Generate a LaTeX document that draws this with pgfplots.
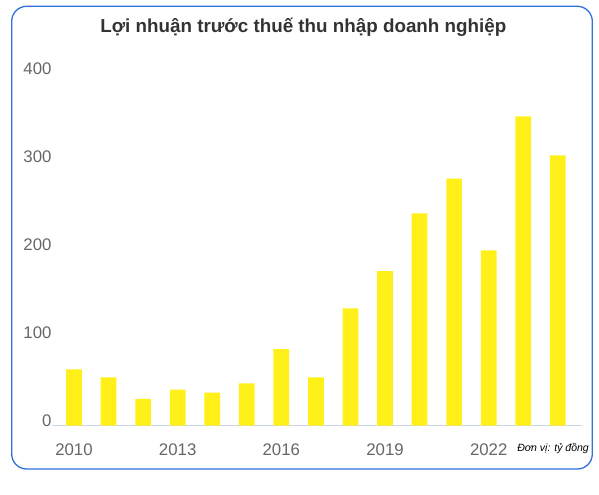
\documentclass[border=0pt]{standalone}
\usepackage{pgfplots}
\pgfplotsset{compat=1.18}
\usepackage{fontspec}
\setmainfont{Liberation Sans}
\definecolor{barcol}{RGB}{255,240,26}
\definecolor{bordercol}{RGB}{45,112,222}
\definecolor{axiscol}{RGB}{204,214,235}
\definecolor{tickcol}{RGB}{102,102,102}
\definecolor{titlecol}{RGB}{51,51,51}
\begin{document}
\begin{tikzpicture}[x=1bp,y=1bp]
\path[use as bounding box] (0,0) rectangle (599,-495);
\draw[bordercol, line width=1.3bp, rounded corners=15bp] (11.7,-6.3) rectangle (592.3,-469);
\node[anchor=base, inner sep=0pt, text=titlecol, font=\bfseries\fontsize{18.8bp}{22bp}\selectfont] at (303.3,-32.7) {Lợi nhuận trước thuế thu nhập doanh nghiệp};
\node[anchor=base east, inner sep=0pt, font=\itshape\fontsize{10.5bp}{12bp}\selectfont] at (589,-451.7) {Đơn vị: tỷ đồng};
\begin{axis}[
  at={(52.3bp,-425.7bp)}, anchor=south west,
  scale only axis, width=529.4bp, height=352.6bp,
  xmin=2009.372, xmax=2024.692, ymin=0, ymax=400,
  axis x line*=bottom, axis y line*=left,
  x axis line style={draw=axiscol, line width=1bp, -},
  y axis line style={draw=none},
  major tick length=0pt,
  xtick={2010,2013,2016,2019,2022},
  xticklabels={2010,2013,2016,2019,2022},
  ytick={0,100,200,300,400},
  yticklabels={0,100,200,300,400},
  tick label style={text=tickcol, font=\fontsize{16.8bp}{18bp}\selectfont, inner sep=0pt},
  xticklabel style={anchor=base, yshift=-29.3bp},
  yticklabel style={anchor=base east, xshift=-0.6bp, yshift=-1bp},
  ybar, bar width=15.7bp,
  clip=false,
]
\addplot[fill=barcol, draw=none] coordinates {
(2010,64.0) (2011,54.9) (2012,30.3) (2013,40.8) (2014,37.4)
(2015,48.1) (2016,87.0) (2017,54.9) (2018,133.2) (2019,175.5)
(2020,240.9) (2021,280.2) (2022,199.0) (2023,351.0) (2024,306.7)
};
\end{axis}
\end{tikzpicture}
\end{document}
